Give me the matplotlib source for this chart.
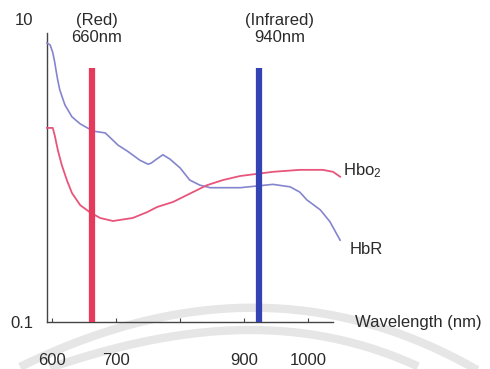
import matplotlib
matplotlib.use("Agg")
import matplotlib.pyplot as plt
import numpy as np

plt.rcParams['font.family'] = ['Liberation Sans', 'DejaVu Sans']
plt.rcParams['mathtext.fontset'] = 'custom'
plt.rcParams['mathtext.rm'] = 'Liberation Sans'
plt.rcParams['mathtext.it'] = 'Liberation Sans'

# Data
hbr_nm = [592, 597, 601, 604, 606, 609, 612, 620, 631, 644, 664, 683, 690, 703, 719, 737,
          750, 755, 761, 773, 784, 800, 815, 831, 847, 894, 945, 972, 987, 998, 1019,
          1034, 1050]
hbr_abs = [6.94, 6.73, 6.0, 5.2, 4.61, 3.9, 3.40, 2.71, 2.26, 2.03, 1.82, 1.77, 1.66, 1.47,
           1.33, 1.17, 1.10, 1.12, 1.17, 1.27, 1.19, 1.04, 0.865, 0.80, 0.77, 0.77, 0.81,
           0.78, 0.72, 0.64, 0.55, 0.46, 0.347]
hbo2_nm = [592, 601, 604, 609, 615, 623, 631, 644, 659, 675, 695, 726, 748, 764,
           789, 820, 842, 867, 894, 945, 987, 1023, 1039, 1050]
hbo2_abs = [1.91, 1.91, 1.71, 1.36, 1.09, 0.865, 0.71, 0.59, 0.53, 0.486, 0.464,
            0.486, 0.53, 0.574, 0.62, 0.72, 0.80, 0.865, 0.92, 0.98, 1.01, 1.01,
            0.98, 0.91]
bar_nm = [662, 923]
bar_top = 4.75
bar_labels = ["(Red)\n660nm", "(Infrared)\n940nm"]
xtick_vals = [600, 700, 800, 900, 1000]
xtick_labels = ["600", "700", "", "900", "1000"]
ytick_vals = [0.1, 10]
ytick_labels = ["0.1", "10"]

W, H = 490, 369
fig = plt.figure(figsize=(W / 100, H / 100), dpi=100)

# faint scanned-watermark swooshes in the background
bg = fig.add_axes([0, 0, 1, 1], zorder=-5)
bg.set_xlim(0, W)
bg.set_ylim(H, 0)
bg.axis('off')
arc_up_x = [20, 100, 167, 245, 312, 345, 412, 458, 490]
arc_up_y = [368, 331, 317, 310, 312, 317, 337, 360, 378]
arc_lo_x = [50, 100, 167, 245, 312, 378, 418]
arc_lo_y = [369, 350, 338, 332, 333, 350, 367]
for ax_, ay_ in [(arc_up_x, arc_up_y), (arc_lo_x, arc_lo_y)]:
    c = np.polyfit(ax_, ay_, 3)
    xx = np.linspace(min(ax_), max(ax_), 200)
    bg.plot(xx, np.polyval(c, xx), color='#e6e6e6', lw=6, solid_capstyle='butt')

ax = fig.add_axes([47 / W, 1 - 322 / H, 299.5 / W, 303 / H])
ax.set_yscale('log')
ax.set_xlim(592, 1060)
ax.set_ylim(0.1, 10)

ax.plot(hbr_nm, hbr_abs, color='#8585cf', lw=1.2, clip_on=False, zorder=3)
ax.plot(hbo2_nm, hbo2_abs, color='#e8557a', lw=1.3, clip_on=False, zorder=3)
ax.vlines(bar_nm[0], 0.1, bar_top, color='#e63a5c', lw=4.5, zorder=4)
ax.vlines(bar_nm[1], 0.1, bar_top, color='#3343b3', lw=4.5, zorder=4)

for sp in ['top', 'right']:
    ax.spines[sp].set_visible(False)
ax.spines['left'].set_bounds(0.1, 8.08)
ax.spines['bottom'].set_bounds(592, 1039)
for sp in ['left', 'bottom']:
    ax.spines[sp].set_color('#444444')
    ax.spines[sp].set_linewidth(1.0)

ax.set_xticks(xtick_vals)
ax.set_xticklabels(xtick_labels)
ax.tick_params(axis='x', direction='in', length=3, width=0.8, color='#444444',
               pad=22, labelsize=12, labelcolor='#2a2a2a')
ax.set_yticks(ytick_vals)
ax.set_yticklabels(ytick_labels)
ax.minorticks_off()
ax.tick_params(axis='y', length=0, pad=10, labelsize=12, labelcolor='#2a2a2a')
ax.set_facecolor('none')

def fpx(x, y):
    return x / W, 1 - y / H

fig.text(*fpx(97, 29), bar_labels[0], ha='center', va='center', fontsize=12,
         color='#2a2a2a', linespacing=1.15)
fig.text(*fpx(280, 29), bar_labels[1], ha='center', va='center', fontsize=12,
         color='#2a2a2a', linespacing=1.15)
fig.text(*fpx(343, 171), "Hbo$_{2}$", ha='left', va='center', fontsize=12,
         color='#2a2a2a')
fig.text(*fpx(350, 250), "HbR", ha='left', va='center', fontsize=12,
         color='#2a2a2a')
fig.text(*fpx(355, 323), "Wavelength (nm)", ha='left', va='center', fontsize=12,
         color='#2a2a2a')

fig.savefig("out.png", dpi=100)
